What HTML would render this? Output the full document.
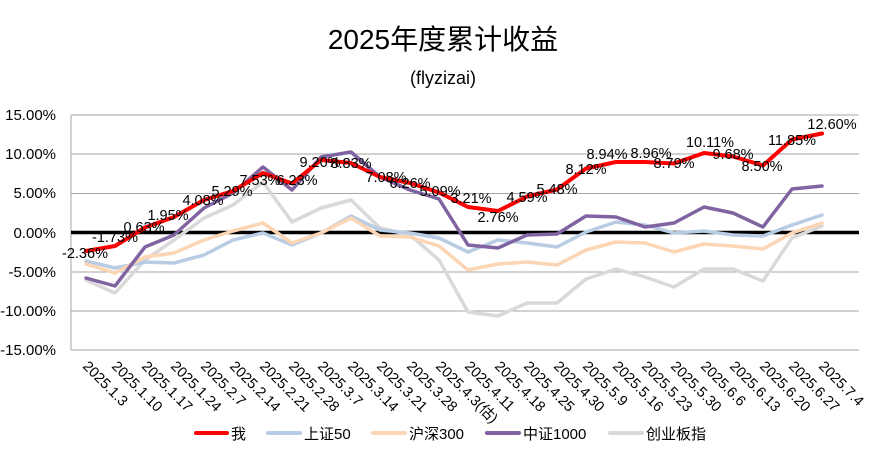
<!DOCTYPE html>
<html><head><meta charset="utf-8"><style>
body{margin:0;background:#fff;}
svg text{font-family:"Liberation Sans","Noto Sans CJK SC",sans-serif;}
</style></head><body>
<svg width="886" height="453" viewBox="0 0 886 453" xmlns="http://www.w3.org/2000/svg">
<rect width="886" height="453" fill="#fff"/>
<text x="443" y="49" font-size="28" text-anchor="middle" fill="#000">2025年度累计收益</text>
<text x="443" y="84" font-size="18" text-anchor="middle" fill="#000">(flyzizai)</text>
<g stroke="#a6a6a6" stroke-width="1">
<line x1="71" y1="115" x2="859" y2="115"/>
<line x1="71" y1="154" x2="859" y2="154"/>
<line x1="71" y1="193.5" x2="859" y2="193.5"/>
<line x1="71" y1="272" x2="859" y2="272"/>
<line x1="71" y1="311" x2="859" y2="311"/>
<line x1="71" y1="350" x2="859" y2="350"/>
<line x1="71" y1="115" x2="71" y2="350"/>
</g>
<line x1="71" y1="232.5" x2="859" y2="232.5" stroke="#000" stroke-width="3.5"/>
<g font-size="15" text-anchor="end" fill="#000">
<text x="56" y="120">15.00%</text>
<text x="56" y="159">10.00%</text>
<text x="56" y="198">5.00%</text>
<text x="56" y="238">0.00%</text>
<text x="56" y="277">-5.00%</text>
<text x="56" y="316">-10.00%</text>
<text x="56" y="355">-15.00%</text>
</g>
<g fill="none" stroke-linejoin="round" stroke-linecap="round">
<polyline stroke="#d9d9d9" stroke-width="3.5" points="86,280 115,293 145,260 174,240 204,218 233,205 263,182 292,222 321,208 351,200 380,228 410,235 439,260 468,312 498,316 527,303 557,303 586,279 616,269 645,277 674,287 704,269 733,269 763,281 792,238 822,226"/>
<polyline stroke="#b8cce4" stroke-width="3.5" points="86,261 115,268 145,262 174,263 204,255 233,240 263,233 292,245 321,233 351,216 380,230 410,233 439,238 468,252 498,240 527,243 557,247 586,232 616,222 645,225 674,233 704,231 733,235 763,236 792,225 822,215"/>
<polyline stroke="#fcd5b5" stroke-width="3.5" points="86,264 115,273 145,257 174,253 204,240 233,231 263,223 292,243 321,233 351,218 380,236 410,237 439,246 468,270 498,264 527,262 557,265 586,250 616,242 645,243 674,252 704,244 733,246 763,249 792,233 822,223"/>
<polyline stroke="#8064a2" stroke-width="3.5" points="86,278 115,286 145,247 174,235 204,208 233,193 263,167 292,190 321,157 351,152 380,177 410,190 439,199 468,245 498,248 527,235 557,234 586,216 616,217 645,227 674,223 704,207 733,213 763,227 792,189 822,186"/>
<polyline stroke="#ff0000" stroke-width="4" points="86,251 115,246 145,227.5 174,217 204,200 233,191 263,173 292,183.5 321,160 351,163 380,177 410,183 439,192.5 468,207 498,211 527,196.5 557,189.5 586,168.5 616,162 645,162 674,163.5 704,153 733,156.5 763,165.5 792,139.5 822,133.5"/>
</g>
<g font-size="14.5" text-anchor="middle" fill="#000">
<text x="85" y="258">-2.36%</text>
<text x="115" y="242">-1.73%</text>
<text x="144" y="232">0.63%</text>
<text x="168" y="220">1.95%</text>
<text x="203" y="205">4.08%</text>
<text x="232" y="196">5.29%</text>
<text x="260" y="185">7.53%</text>
<text x="297" y="185">6.23%</text>
<text x="320" y="167">9.20%</text>
<text x="351" y="168">8.83%</text>
<text x="386" y="182">7.08%</text>
<text x="410" y="188">6.26%</text>
<text x="440" y="196">5.09%</text>
<text x="471" y="203">3.21%</text>
<text x="498" y="222">2.76%</text>
<text x="527" y="202">4.59%</text>
<text x="557" y="194">5.48%</text>
<text x="586" y="174">8.12%</text>
<text x="607" y="159">8.94%</text>
<text x="651" y="158">8.96%</text>
<text x="674" y="168">8.79%</text>
<text x="710" y="147">10.11%</text>
<text x="733" y="159">9.68%</text>
<text x="762" y="171">8.50%</text>
<text x="792" y="145">11.85%</text>
<text x="832" y="129">12.60%</text>
</g>
<g font-size="14.5" fill="#000">
<text transform="translate(82,367) rotate(45)">2025.1.3</text>
<text transform="translate(111,367) rotate(45)">2025.1.10</text>
<text transform="translate(141,367) rotate(45)">2025.1.17</text>
<text transform="translate(170,367) rotate(45)">2025.1.24</text>
<text transform="translate(200,367) rotate(45)">2025.2.7</text>
<text transform="translate(229,367) rotate(45)">2025.2.14</text>
<text transform="translate(259,367) rotate(45)">2025.2.21</text>
<text transform="translate(288,367) rotate(45)">2025.2.28</text>
<text transform="translate(317,367) rotate(45)">2025.3.7</text>
<text transform="translate(347,367) rotate(45)">2025.3.14</text>
<text transform="translate(376,367) rotate(45)">2025.3.21</text>
<text transform="translate(406,367) rotate(45)">2025.3.28</text>
<text transform="translate(435,367) rotate(45)">2025.4.3(估)</text>
<text transform="translate(464,367) rotate(45)">2025.4.11</text>
<text transform="translate(494,367) rotate(45)">2025.4.18</text>
<text transform="translate(523,367) rotate(45)">2025.4.25</text>
<text transform="translate(553,367) rotate(45)">2025.4.30</text>
<text transform="translate(582,367) rotate(45)">2025.5.9</text>
<text transform="translate(612,367) rotate(45)">2025.5.16</text>
<text transform="translate(641,367) rotate(45)">2025.5.23</text>
<text transform="translate(670,367) rotate(45)">2025.5.30</text>
<text transform="translate(700,367) rotate(45)">2025.6.6</text>
<text transform="translate(729,367) rotate(45)">2025.6.13</text>
<text transform="translate(759,367) rotate(45)">2025.6.20</text>
<text transform="translate(788,367) rotate(45)">2025.6.27</text>
<text transform="translate(818,367) rotate(45)">2025.7.4</text>
</g>
<g stroke-width="4" stroke-linecap="round">
<line x1="196" y1="433" x2="227" y2="433" stroke="#ff0000"/>
<line x1="268" y1="433" x2="300" y2="433" stroke="#b8cce4"/>
<line x1="373" y1="433" x2="405" y2="433" stroke="#fcd5b5"/>
<line x1="487" y1="433" x2="519" y2="433" stroke="#8064a2"/>
<line x1="610" y1="433" x2="642" y2="433" stroke="#d9d9d9"/>
</g>
<g font-size="15" fill="#000">
<text x="231" y="439">我</text>
<text x="304" y="439">上证50</text>
<text x="409" y="439">沪深300</text>
<text x="523" y="439">中证1000</text>
<text x="646" y="439">创业板指</text>
</g>
</svg>
</body></html>
